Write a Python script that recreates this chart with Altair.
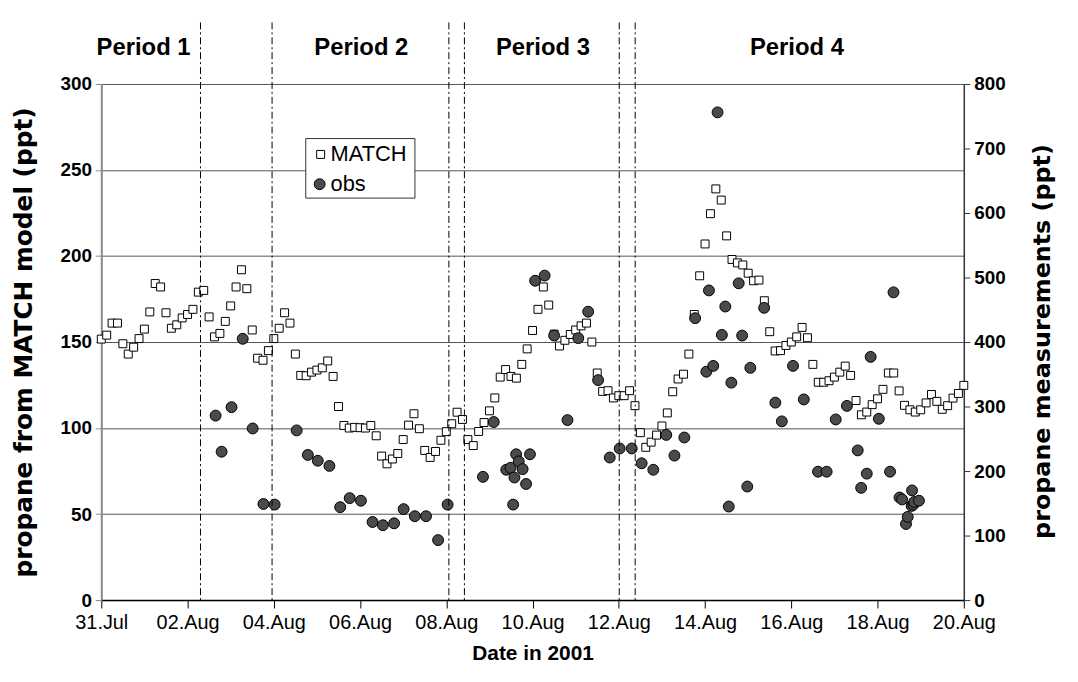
import altair as alt
import pandas as pd

# ---------------- data ----------------
# MATCH model propane (ppt), 3-hourly from 31 Jul 2001 00:00
match_step_hours = 3
match_values = [
    151.7, 154, 161, 161, 149, 143, 147, 152, 157.5, 167.5,
    184, 182, 167, 158, 160, 164, 166, 169, 179, 180,
    164.6, 153, 155, 162, 171, 182, 192, 181, 157, 140.6,
    139.4, 145, 152, 158, 167, 161, 143, 130.6, 130.4, 132.5,
    133.7, 135, 139, 130, 112.5, 101.5, 100, 100.4, 100.2, 100,
    101.5, 95.5, 83.7, 79.2, 82, 85.2, 93.3, 101.7, 108.3, 99.6,
    87, 82.9, 86.4, 92.9, 97.9, 102.5, 109.2, 105, 93.3, 89.8,
    98, 103.2, 110, 117.5, 129.6, 134, 130, 129, 137, 146,
    156.7, 169, 182, 171.5, 154.6, 147.7, 151, 154.4, 157, 159.4,
    161, 150, 132, 121.3, 121.7, 117.5, 118.8, 118.8, 121.7, 113,
    97.3, 88.8, 91.8, 95.9, 101.2, 108.8, 121.1, 128.5, 131.3, 143,
    166, 188.5, 207, 224.6, 239, 232.5, 211.7, 198, 196, 194.8,
    190, 185.6, 186, 174, 156, 144.8, 145, 148, 150, 153,
    158.5, 152.5, 137, 126.6, 126.6, 127.5, 129.6, 132.5, 136, 130.6,
    116, 107.7, 109.3, 113.6, 117, 122.5, 132, 132, 121.6, 113.2,
    110.6, 109.3, 110.6, 114.6, 119.5, 115.5, 110.9, 113, 117.4, 120.1,
    124.8,
]

# observations: time in days after 31 Jul 2001 00:00, value (ppt)
obs_day = [
    2.65, 2.79, 3.02, 3.28, 3.51, 3.76, 4.02, 4.53, 4.79, 5.02,
    5.29, 5.54, 5.76, 6.02, 6.29, 6.53, 6.79, 7.01, 7.27, 7.53,
    7.81, 8.03, 8.85, 9.10, 9.39, 9.49, 9.55, 9.58, 9.62, 9.68,
    9.77, 9.85, 9.94, 10.06, 10.28, 10.50, 10.81, 11.06, 11.29, 11.52,
    11.79, 12.02, 12.30, 12.53, 12.80, 13.10, 13.29, 13.52, 13.77, 14.03,
    14.09, 14.19, 14.29, 14.39, 14.47, 14.55, 14.61, 14.78, 14.86, 14.98,
    15.05, 15.37, 15.63, 15.78, 16.04, 16.29, 16.62, 16.82, 17.03, 17.29,
    17.54, 17.62, 17.75, 17.84, 18.03, 18.29, 18.37, 18.51, 18.57, 18.66,
    18.70, 18.79, 18.80, 18.83, 18.85, 18.96,
]
obs_values = [
    286, 230, 299, 405, 266, 149, 148, 263, 225, 216,
    208, 144, 158, 154, 121, 116, 119, 141, 130, 130,
    93, 148, 191, 276, 202, 205, 148, 190, 226, 215,
    203, 180, 226, 495, 503, 410, 279, 406, 447, 341,
    221, 235, 235, 212, 202, 256, 224, 252, 437, 354,
    480, 363, 756, 411, 455, 145, 337, 491, 410, 176,
    360, 453, 306, 277, 363, 311, 199, 199, 280, 301,
    232, 174, 196, 377, 281, 199, 477, 159, 156, 118,
    129, 146, 170, 148, 152, 154,
]

period_line_day = [2.30, 3.96, 8.06, 8.42, 12.01, 12.38]
period_labels = ["Period 1", "Period 2", "Period 3", "Period 4"]
period_label_day = [0.98, 6.03, 10.24, 16.13]

legend_labels = ["MATCH", "obs"]

left_ticks = [0, 50, 100, 150, 200, 250, 300]
right_ticks = [0, 100, 200, 300, 400, 500, 600, 700, 800]
x_tick_dates = [(7, 31), (8, 2), (8, 4), (8, 6), (8, 8), (8, 10),
                (8, 12), (8, 14), (8, 16), (8, 18), (8, 20)]

# ---------------- frames ----------------
start = pd.Timestamp("2001-07-31 00:00:00")
match_df = pd.DataFrame({
    "t": [start + pd.Timedelta(hours=match_step_hours * i) for i in range(len(match_values))],
    "v": match_values,
})
obs_df = pd.DataFrame({
    "t": start + pd.to_timedelta(obs_day, unit="D"),
    "v": obs_values,
})
lines_df = pd.DataFrame({"t": start + pd.to_timedelta(period_line_day, unit="D")})
plab_df = pd.DataFrame({"t": start + pd.to_timedelta(period_label_day, unit="D"),
                        "label": period_labels})

SANS = "Liberation Sans, Arial, Helvetica"
WIDE = "DejaVu Sans, Liberation Sans, Arial"

W, H = 869, 520

x_enc = alt.X(
    "t:T",
    scale=alt.Scale(domain=[alt.DateTime(year=2001, month=7, date=31),
                            alt.DateTime(year=2001, month=8, date=20)]),
    axis=alt.Axis(
        values=[alt.DateTime(year=2001, month=m, date=d) for m, d in x_tick_dates],
        format="%d.%b",
        grid=False,
        domainColor="black", domainWidth=1.5,
        tickColor="black", tickSize=8, tickWidth=1,
        labelFont=SANS, labelFontSize=20, labelColor="black",
        labelPadding=5, labelFlush=False,
        title="Date in 2001",
        titleFont=SANS, titleFontSize=21, titleFontWeight="bold", titleColor="black",
        titleY=54, titleBaseline="middle",
    ),
)

rules = alt.Chart(lines_df).mark_rule(
    color="black", strokeWidth=1, strokeDash=[7, 3, 2, 3]
).encode(x=x_enc, y=alt.value(-62), y2=alt.value(H))

period_text = alt.Chart(plab_df).mark_text(
    font=SANS, fontSize=24, fontWeight="bold", color="black",
    align="center", baseline="middle",
).encode(x=x_enc, y=alt.value(-36), text="label:N")

squares = alt.Chart(match_df).mark_square(
    fill="white", stroke="black", strokeWidth=1, size=64, opacity=1, fillOpacity=1
).encode(
    x=x_enc,
    y=alt.Y("v:Q", scale=alt.Scale(domain=[0, 300]),
            axis=alt.Axis(
                orient="left", values=left_ticks, grid=True,
                gridColor="#555555", gridWidth=1,
                domainColor="#888888", domainWidth=2,
                tickColor="#888888", tickSize=6,
                labelFont=SANS, labelFontSize=19, labelFontWeight="bold",
                labelColor="black", labelPadding=4,
                title="propane from MATCH model (ppt)",
                titleFont=WIDE, titleFontSize=25, titleFontWeight="bold",
                titleColor="black", titleAngle=270,
                titleX=-78, titleY=260, titleAlign="center", titleBaseline="middle",
            )),
)

circles = alt.Chart(obs_df).mark_circle(
    fill="#4a4a4a", stroke="black", strokeWidth=1, size=120, opacity=1
).encode(
    x=x_enc,
    y=alt.Y("v:Q", scale=alt.Scale(domain=[0, 800]),
            axis=alt.Axis(
                orient="right", values=right_ticks, grid=False,
                domainColor="#333333", domainWidth=1.5,
                tickColor="#333333", tickSize=6,
                labelFont=SANS, labelFontSize=19, labelFontWeight="bold",
                labelColor="black", labelPadding=4,
                title="propane measurements (ppt)",
                titleFont=WIDE, titleFontSize=24, titleFontWeight="bold",
                titleColor="black", titleAngle=270,
                titleX=79, titleY=259, titleAlign="center", titleBaseline="middle",
            )),
)

# ---------------- legend (manual box) ----------------
leg_df = pd.DataFrame({"label": legend_labels})
leg_box = alt.Chart(leg_df.head(1)).mark_rect(
    fill="white", stroke="#333333", strokeWidth=1
).encode(x=alt.value(206), x2=alt.value(316), y=alt.value(55), y2=alt.value(115))
leg_sq = alt.Chart(leg_df.head(1)).mark_square(
    fill="white", stroke="black", strokeWidth=1, size=64, opacity=1
).encode(x=alt.value(221), y=alt.value(71))
leg_ci = alt.Chart(leg_df.tail(1)).mark_circle(
    fill="#4a4a4a", stroke="black", strokeWidth=1, size=120, opacity=1
).encode(x=alt.value(220), y=alt.value(101))
leg_t1 = alt.Chart(leg_df.head(1)).mark_text(
    font=SANS, fontSize=22, color="black", align="left", baseline="middle"
).encode(x=alt.value(231), y=alt.value(71), text="label:N")
leg_t2 = alt.Chart(leg_df.tail(1)).mark_text(
    font=SANS, fontSize=22, color="black", align="left", baseline="middle"
).encode(x=alt.value(231), y=alt.value(101), text="label:N")

chart = alt.layer(
    squares, circles, rules, period_text,
    leg_box, leg_sq, leg_ci, leg_t1, leg_t2,
).resolve_scale(y="independent").properties(
    width=W, height=H,
    autosize=alt.AutoSizeParams(type="none"),
    padding={"left": 94, "top": 74, "right": 107, "bottom": 80},
    background="white",
).configure_view(stroke=None)

chart.save("out.html", embed_options={"renderer": "svg", "actions": False})
